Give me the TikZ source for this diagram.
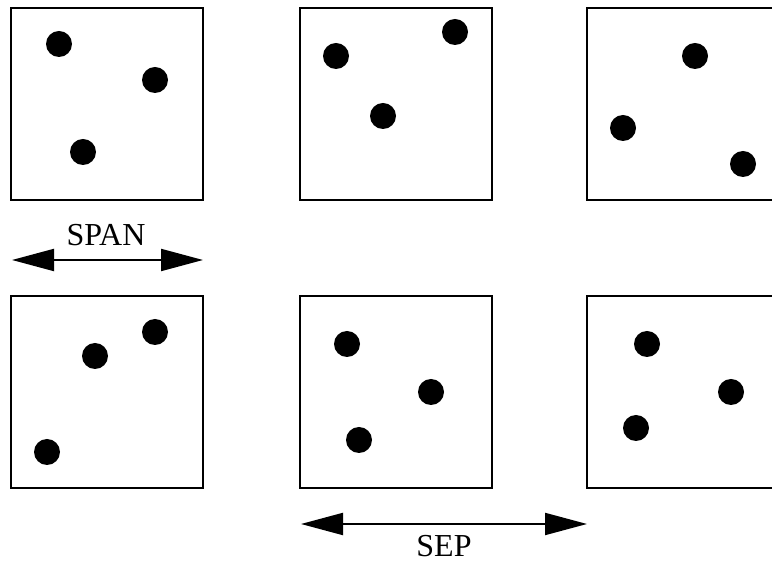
\documentclass[tikz,border=0pt]{standalone}
\usepackage{fontspec}
\setmainfont{Liberation Serif}
\usetikzlibrary{arrows.meta}
\begin{document}
\begin{tikzpicture}[x=1pt,y=1pt,
  frame/.style={draw=black,line width=2pt,minimum width=192pt,minimum height=192pt,inner sep=0pt},
  dot/.style={circle,fill=black,minimum size=26pt,inner sep=0pt},
  dimarrow/.style={line width=2pt,{Triangle[length=42pt,width=22pt]}-{Triangle[length=42pt,width=22pt]}},
  lbl/.style={font=\fontsize{32}{38}\selectfont,anchor=base,inner sep=0pt}]
\useasboundingbox (0,0) rectangle (772,565);
\clip (0,0) rectangle (772,565);
% top row
\node[frame] (b1) at (107,461) {};
\node[frame] (b2) at (395.5,461) {};
\node[frame] (b3) at (683,461) {};
% bottom row
\node[frame] (b4) at (107,173) {};
\node[frame] (b5) at (395.5,173) {};
\node[frame] (b6) at (683,173) {};
% dots box 1
\node[dot] (d11) at (59,521) {};
\node[dot] (d12) at (155,485) {};
\node[dot] (d13) at (83,413) {};
% dots box 2
\node[dot] (d21) at (336,509) {};
\node[dot] (d22) at (455,533) {};
\node[dot] (d23) at (383,449) {};
% dots box 3
\node[dot] (d31) at (695,509) {};
\node[dot] (d32) at (623,437) {};
\node[dot] (d33) at (743,401) {};
% dots box 4
\node[dot] (d41) at (155,233) {};
\node[dot] (d42) at (95,209) {};
\node[dot] (d43) at (47,113) {};
% dots box 5
\node[dot] (d51) at (347,221) {};
\node[dot] (d52) at (431,173) {};
\node[dot] (d53) at (359,125) {};
% dots box 6
\node[dot] (d61) at (647,221) {};
\node[dot] (d62) at (731,173) {};
\node[dot] (d63) at (636,137) {};
% SPAN
\coordinate (spanL) at (12,305);
\coordinate (spanR) at (203,305);
\draw[dimarrow] (spanL) -- (spanR);
\node[lbl] (span) at (106,319) {SPAN};
% SEP
\coordinate (sepL) at (301,41);
\coordinate (sepR) at (587,41);
\draw[dimarrow] (sepL) -- (sepR);
\node[lbl] (sep) at (444,8) {SEP};
\end{tikzpicture}
\end{document}
